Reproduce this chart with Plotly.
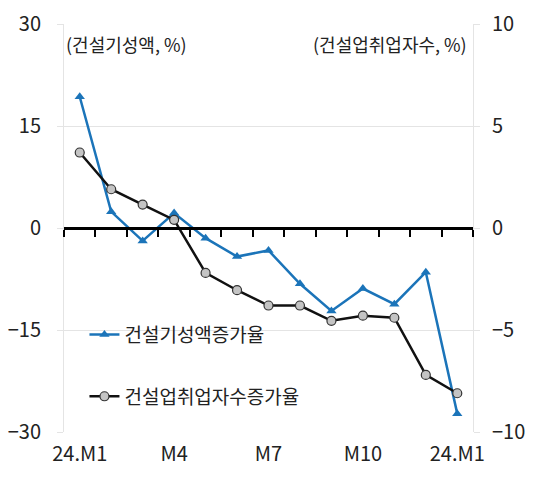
import plotly.graph_objects as go

# Months: 24.M1 ... M12, then the following M1
months = ["24.M1", "M2", "M3", "M4", "M5", "M6", "M7", "M8", "M9", "M10", "M11", "M12", "25.M1"]
tick_positions = [0, 3, 6, 9, 12]
tick_labels = ["24.M1", "M4", "M7", "M10", "24.M1"]

# 건설기성액 증가율 (left axis, %)
construction_output = [19.3, 2.4, -1.9, 2.2, -1.5, -4.2, -3.3, -8.2, -12.2, -8.9, -11.2, -6.5, -27.3]
# 건설업 취업자수 증가율 (right axis, %)
construction_jobs = [3.7, 1.9, 1.15, 0.4, -2.2, -3.05, -3.8, -3.8, -4.55, -4.3, -4.4, -7.2, -8.1]

xs = list(range(len(months)))
FONT = "Noto Sans CJK KR"

fig = go.Figure()
fig.add_trace(go.Scatter(
    x=xs, y=construction_output, name="건설기성액증가율",
    mode="lines+markers", legendgroup="a",
    line=dict(color="#1b74b9", width=2.5),
    marker=dict(symbol="triangle-up", size=9, color="#1b74b9"),
    yaxis="y",
))
fig.add_trace(go.Scatter(
    x=xs, y=construction_jobs, name="건설업취업자수증가율",
    mode="lines+markers", legendgroup="b",
    line=dict(color="#111111", width=2.5),
    marker=dict(symbol="circle", size=9, color="#c4c4c4",
                line=dict(color="#333333", width=1.2)),
    yaxis="y2",
))
# invisible trace carrying the zero-line axis with boundary ticks
fig.add_trace(go.Scatter(x=[xs[0]], y=[0], mode="markers", marker=dict(opacity=0),
                         showlegend=False, hoverinfo="skip", xaxis="x2", yaxis="y"))

fig.update_layout(
    width=534, height=477,
    margin=dict(l=64, r=61, t=24, b=45),
    paper_bgcolor="white", plot_bgcolor="white",
    font=dict(family=FONT, size=18, color="#222222"),
    showlegend=True,
    legend=dict(x=0.05, y=0.285, xanchor="left", yanchor="top",
                bgcolor="rgba(0,0,0,0)", traceorder="grouped",
                tracegroupgap=34, font=dict(size=19, family=FONT),
                itemwidth=30),
    xaxis=dict(range=[-0.5, 12.5], tickvals=tick_positions, ticktext=tick_labels,
               showgrid=False, zeroline=False, showline=False, ticks="",
               ticklabelstandoff=8, automargin=False,
               tickfont=dict(size=20, family=FONT)),
    xaxis2=dict(range=[-0.5, 12.5], overlaying="x", anchor="free", position=0.5,
                tickvals=[i - 0.5 for i in range(len(months) + 1)],
                ticks="outside", ticklen=7, tickwidth=2, tickcolor="black",
                showticklabels=False, showline=True, linecolor="black", linewidth=2.5,
                showgrid=False, zeroline=False, automargin=False),
    yaxis=dict(range=[-30, 30], tickvals=[-30, -15, 0, 15, 30],
               showgrid=True, gridcolor="#e4e4e4", gridwidth=1,
               zeroline=False, showline=True, linecolor="#e4e4e4",
               ticks="outside", ticklen=6, tickcolor="#e4e4e4",
               ticklabelstandoff=12, automargin=False,
               tickfont=dict(size=20, family=FONT)),
    yaxis2=dict(range=[-10, 10], tickvals=[-10, -5, 0, 5, 10], overlaying="y",
                side="right", showgrid=False, zeroline=False,
                showline=True, linecolor="#e4e4e4",
                ticks="outside", ticklen=6, tickcolor="#e4e4e4",
                ticklabelstandoff=8, automargin=False,
                tickfont=dict(size=20, family=FONT)),
    annotations=[
        dict(text="(건설기성액, %)", xref="paper", yref="paper", x=0.0, y=0.988,
             xanchor="left", yanchor="top", showarrow=False, font=dict(size=18)),
        dict(text="(건설업취업자수, %)", xref="paper", yref="paper", x=0.99, y=0.988,
             xanchor="right", yanchor="top", showarrow=False, font=dict(size=18)),
    ],
)

fig.write_html("out.html")
